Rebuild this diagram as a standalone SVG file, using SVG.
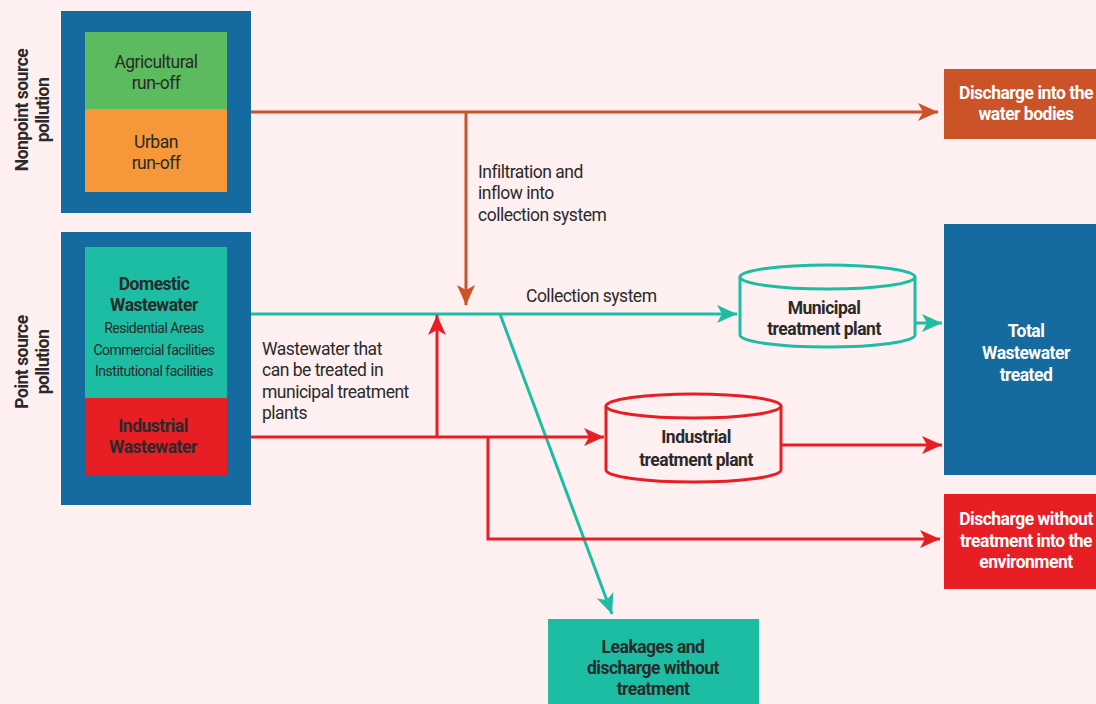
<svg xmlns="http://www.w3.org/2000/svg" width="1096" height="704" viewBox="0 0 1096 704">
  <style>
    text { font-family: Roboto, "Liberation Sans", sans-serif; fill: #2a2a2a; }
    .lbl { font-size: 17.5px; letter-spacing: -0.5px; }
    .b { font-weight: bold; }
    .w { fill: #ffffff; }
    .sm { font-size: 14px; letter-spacing: -0.5px; }
    .c { text-anchor: middle; }
    .org { stroke: #cc5228; stroke-width: 3; fill: none; }
    .teal { stroke: #1dbda4; stroke-width: 3; fill: none; }
    .red { stroke: #e81e25; stroke-width: 3; fill: none; }
  </style>
  <defs>
    <marker id="aO" markerUnits="userSpaceOnUse" markerWidth="22" markerHeight="18" refX="20" refY="9" orient="auto">
      <path d="M0,0 L20,9 L0,18 L5,9 z" fill="#cc5228"/>
    </marker>
    <marker id="aT" markerUnits="userSpaceOnUse" markerWidth="22" markerHeight="18" refX="20" refY="9" orient="auto">
      <path d="M0,0 L20,9 L0,18 L5,9 z" fill="#1dbda4"/>
    </marker>
    <marker id="aR" markerUnits="userSpaceOnUse" markerWidth="22" markerHeight="18" refX="20" refY="9" orient="auto">
      <path d="M0,0 L20,9 L0,18 L5,9 z" fill="#e81e25"/>
    </marker>
  </defs>

  <rect width="1096" height="704" fill="#fef0f0"/>

  <!-- side labels -->
  <text class="lbl b c" transform="translate(28,110) rotate(-90)">Nonpoint source</text>
  <text class="lbl b c" transform="translate(49,110) rotate(-90)">pollution</text>
  <text class="lbl b c" transform="translate(28,362) rotate(-90)">Point source</text>
  <text class="lbl b c" transform="translate(49,362) rotate(-90)">pollution</text>

  <!-- nonpoint sources -->
  <g id="nonpoint">
    <rect x="61" y="11" width="190" height="202" fill="#156a9f"/>
    <rect x="85" y="32" width="142" height="77" fill="#5dbb5f"/>
    <rect x="85" y="109" width="142" height="83" fill="#f6973a"/>
    <text class="lbl c" x="156" y="68">Agricultural</text>
    <text class="lbl c" x="156" y="89">run-off</text>
    <text class="lbl c" x="156" y="148">Urban</text>
    <text class="lbl c" x="156" y="169">run-off</text>
  </g>

  <!-- point sources -->
  <g id="point">
    <rect x="61" y="232" width="190" height="273" fill="#156a9f"/>
    <rect x="85" y="247" width="142" height="151" fill="#1dbda4"/>
    <rect x="85" y="398" width="142" height="77" fill="#e81e25"/>
    <text class="lbl b c" x="154" y="290">Domestic</text>
    <text class="lbl b c" x="154" y="311">Wastewater</text>
    <text class="sm c" x="154" y="333">Residential Areas</text>
    <text class="sm c" x="154" y="355">Commercial facilities</text>
    <text class="sm c" x="154" y="376">Institutional facilities</text>
    <text class="lbl b c" x="153" y="432">Industrial</text>
    <text class="lbl b c" x="153" y="453">Wastewater</text>
  </g>

  <!-- connectors -->
  <g id="connectors">
    <path class="org" d="M251,112 H938" marker-end="url(#aO)"/>
    <path class="org" d="M466,112 V305" marker-end="url(#aO)"/>
    <path class="teal" d="M251,314 H737" marker-end="url(#aT)"/>
    <path class="teal" d="M500,314 L612,614" marker-end="url(#aT)"/>
    <path class="teal" d="M915,323 H942" marker-end="url(#aT)"/>
    <path class="red" d="M251,437 H604" marker-end="url(#aR)"/>
    <path class="red" d="M437,437 V315" marker-end="url(#aR)"/>
    <path class="red" d="M488,437 V539 H940" marker-end="url(#aR)"/>
    <path class="red" d="M781,445 H942" marker-end="url(#aR)"/>
  </g>

  <!-- connector labels -->
  <text class="lbl" x="478" y="178">Infiltration and</text>
  <text class="lbl" x="478" y="199">inflow into</text>
  <text class="lbl" x="478" y="221">collection system</text>
  <text class="lbl" x="526" y="302">Collection system</text>
  <text class="lbl" x="262" y="355">Wastewater that</text>
  <text class="lbl" x="262" y="376">can be treated in</text>
  <text class="lbl" x="262" y="398">municipal treatment</text>
  <text class="lbl" x="262" y="419">plants</text>

  <!-- municipal plant -->
  <g id="municipal">
    <path class="teal" d="M740,277 V335 A87.5,12 0 0 0 915,335 V277" fill="#fef0f0"/>
    <ellipse class="teal" cx="827.5" cy="277" rx="87.5" ry="12"/>
    <text class="lbl b c" x="824" y="314">Municipal</text>
    <text class="lbl b c" x="824" y="335">treatment plant</text>
  </g>

  <!-- industrial plant -->
  <g id="industrial">
    <path class="red" d="M606,406 V470 A87.5,12 0 0 0 781,470 V406"/>
    <ellipse class="red" cx="693.5" cy="406" rx="87.5" ry="12"/>
    <text class="lbl b c" x="696" y="443">Industrial</text>
    <text class="lbl b c" x="696" y="466">treatment plant</text>
  </g>

  <!-- outputs -->
  <g id="discharge-water">
    <rect x="944" y="69" width="152" height="70" fill="#cc5228"/>
    <text class="lbl b c w" x="1026" y="99">Discharge into the</text>
    <text class="lbl b c w" x="1026" y="120">water bodies</text>
  </g>
  <g id="total-treated">
    <rect x="944" y="224" width="152" height="251" fill="#156a9f"/>
    <text class="lbl b c w" x="1026" y="337">Total</text>
    <text class="lbl b c w" x="1026" y="359">Wastewater</text>
    <text class="lbl b c w" x="1026" y="381">treated</text>
  </g>
  <g id="discharge-env">
    <rect x="944" y="494" width="152" height="95" fill="#e81e25"/>
    <text class="lbl b c w" x="1026" y="525">Discharge without</text>
    <text class="lbl b c w" x="1026" y="547">treatment into the</text>
    <text class="lbl b c w" x="1026" y="568">environment</text>
  </g>
  <g id="leakages">
    <rect x="548" y="619" width="211" height="85" fill="#1dbda4"/>
    <text class="lbl b c" x="653" y="653">Leakages and</text>
    <text class="lbl b c" x="653" y="674">discharge without</text>
    <text class="lbl b c" x="653" y="695">treatment</text>
  </g>
</svg>
